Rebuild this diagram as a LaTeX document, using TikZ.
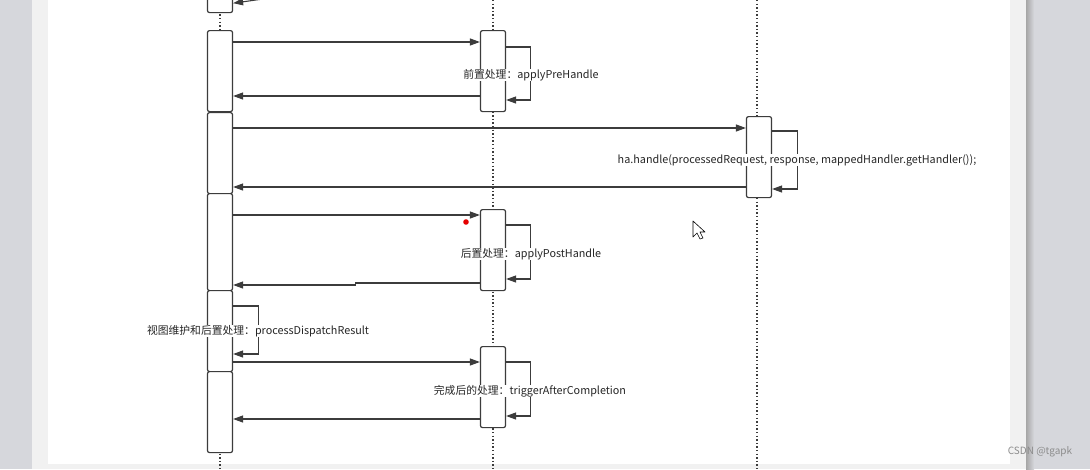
\documentclass[tikz,border=0pt]{standalone}
\usepackage{fontspec}
\setmainfont{Noto Sans CJK SC}
\usetikzlibrary{arrows.meta,calc}
\definecolor{ink}{HTML}{3C3C3C}
\definecolor{pagegray}{HTML}{D6D7DC}
\definecolor{edgegray}{HTML}{F1F1F1}
\tikzset{
  act/.style={draw=ink, fill=white, line width=1.2pt, rounded corners=2pt,
    minimum width=25pt, inner sep=0pt, anchor=north},
  msg/.style={draw=ink, line width=1.1pt, -{Triangle[length=10pt,width=7pt]}},
  life/.style={draw=ink, line width=1.4pt, dash pattern=on 1.4pt off 2.2pt},
  lbl/.style={fill=white, inner sep=0.5pt, font=\fontsize{10.8}{12}\selectfont, text=black!85}
}
\begin{document}
\begin{tikzpicture}[x=1pt,y=-1pt]
\useasboundingbox (0,0) rectangle (1090,469);
% page background
\fill[pagegray] (0,0) rectangle (32,469);
\fill[edgegray] (32,0) rectangle (48,469);
\fill[white] (48,0) rectangle (1010,469);
\fill[edgegray] (1010,0) rectangle (1026,469);
\fill[pagegray] (1026,0) rectangle (1090,469);
\shade[left color=black!35, right color=pagegray] (1026,0) rectangle (1034,469);
\fill[edgegray] (48,464) rectangle (1010,469);
% lifelines
\draw[life] (220,0) -- (220,469);
\draw[life] (493,0) -- (493,469);
\draw[life] (757,0) -- (757,469);
% activation boxes: left lifeline
\node[act, minimum height=22pt] (L0) at (220,-10) {};
\node[act, minimum height=81pt] (L1) at (220,30) {};
\node[act, minimum height=81pt] (L2) at (220,112) {};
\node[act, minimum height=97pt] (L3) at (220,193) {};
\node[act, minimum height=81pt] (L4) at (220,290) {};
\node[act, minimum height=81pt] (L5) at (220,371) {};
% middle lifeline
\node[act, minimum height=81pt] (M1) at (493,30) {};
\node[act, minimum height=81pt] (M2) at (493,209) {};
\node[act, minimum height=81pt] (M3) at (493,346) {};
% right lifeline
\node[act, minimum height=81pt] (R1) at (759,116) {};
% incoming arrow to top box (cut off)
\coordinate (top0) at (270,-2);
\draw[msg] (top0) -- ($(L0.south east)+(0,-10)$);
% messages
\draw[msg] ($(L1.north east)+(0,12)$) -- ($(M1.north west)+(0,12)$);
\draw[msg] ($(M1.north west)+(0,66)$) -- ($(L1.north east)+(0,66)$);
\draw[msg] ($(M1.north east)+(0,17)$) -| ++(24,0) |- ($(M1.north east)+(0,70)$);
\draw[msg] ($(L2.north east)+(0,16)$) -- ($(R1.north west)+(0,12)$);
\draw[msg] ($(R1.north west)+(0,71)$) -- ($(L2.north east)+(0,75)$);
\draw[msg] ($(R1.north east)+(0,15)$) -| ++(25,0) |- ($(R1.north east)+(0,73)$);
\draw[msg] ($(L3.north east)+(0,22)$) -- ($(M2.north west)+(0,6)$);
\draw[msg] ($(M2.north west)+(0,74)$) -- ++(-124,0) -- ++(0,2) -- ($(L3.north east)+(0,92)$);
\draw[msg] ($(M2.north east)+(0,16)$) -| ++(24,0) |- ($(M2.north east)+(0,70)$);
\draw[msg] ($(L4.north east)+(0,16)$) -| ++(25,0) |- ($(L4.north east)+(0,64)$);
\draw[msg] ($(L4.north east)+(0,72)$) -- ($(M3.north west)+(0,16)$);
\draw[msg] ($(M3.north west)+(0,73)$) -- ($(L5.north east)+(0,48)$);
\draw[msg] ($(M3.north east)+(0,16)$) -| ++(24,0) |- ($(M3.north east)+(0,70)$);
% labels
\node[lbl] (t1) at (531,75) {前置处理：applyPreHandle};
\node[lbl] (t2) at (797,160) {ha.handle(processedRequest, response, mappedHandler.getHandler());};
\node[lbl] (t3) at (531,254) {后置处理：applyPostHandle};
\node[lbl] (t4) at (258,331) {视图维护和后置处理：processDispatchResult};
\node[lbl] (t5) at (530,391) {完成后的处理：triggerAfterCompletion};
% red dot and mouse cursor
\fill[red!90!black] (466,222) circle (2.8);
\draw[black, fill=white, line width=0.6pt, line join=round]
  (693,221) -- (693,237) -- (697,233) -- (700,239) -- (703,238) -- (700,232) -- (705,232) -- cycle;
% watermark
\node[font=\fontsize{10}{12}\selectfont, text=black!45, inner sep=0pt] (wm) at (1040,452) {CSDN @tgapk};
\end{tikzpicture}
\end{document}
